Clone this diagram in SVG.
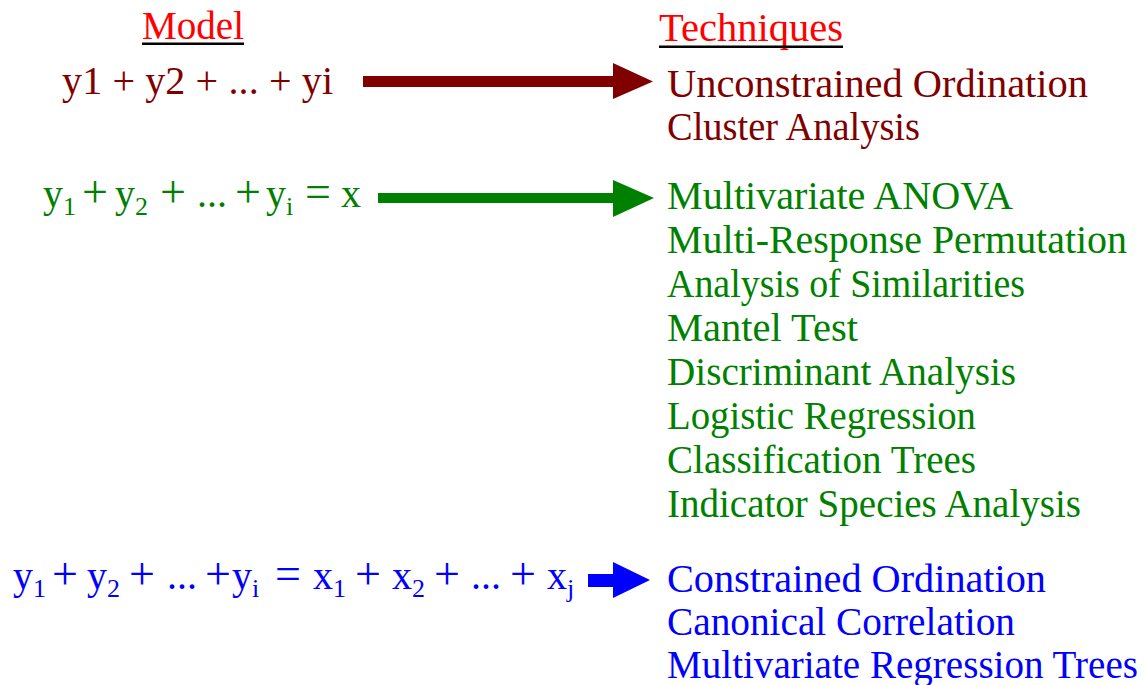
<svg xmlns="http://www.w3.org/2000/svg" width="1146" height="685" viewBox="0 0 1146 685">
  <style>
    text { font-family: "Liberation Serif", "Times New Roman", serif; font-size: 40px; }
    .head { fill: #FF0000; font-size: 39px; }
    .brown { fill: #800000; }
    .green { fill: #008000; }
    .blue { fill: #0000FF; }
    .sub { font-size: 26px; }
    .op { font-size: 46px; }
  </style>
  <rect width="1146" height="685" fill="#FFFFFF"/>

  <!-- column headings -->
  <g id="heading-model">
    <text class="head" x="142" y="39" textLength="102" lengthAdjust="spacingAndGlyphs">Model</text>
    <rect x="142" y="42.5" width="102" height="2.5" fill="#000000"/>
  </g>
  <g id="heading-techniques">
    <text class="head" x="659" y="41" textLength="184" lengthAdjust="spacingAndGlyphs">Techniques</text>
    <rect x="659" y="45.5" width="184" height="2.5" fill="#000000"/>
  </g>

  <!-- models -->
  <g id="model-unconstrained">
    <text class="brown" x="62" y="94" textLength="271" lengthAdjust="spacing">y1 + y2 + ... + yi</text>
  </g>
  <g id="model-single-x">
    <text class="green" y="207"><tspan x="43">y</tspan><tspan class="sub" dy="8">1</tspan><tspan class="op" x="82" dy="-8">+</tspan><tspan x="115">y</tspan><tspan class="sub" dy="8">2</tspan><tspan class="op" x="160" dy="-8">+</tspan><tspan x="197">...</tspan><tspan class="op" x="235">+</tspan><tspan x="266">y</tspan><tspan class="sub" dy="8">i</tspan><tspan class="op" x="305" dy="-8">=</tspan><tspan x="341">x</tspan></text>
  </g>
  <g id="model-multiple-x">
    <text class="blue" y="589"><tspan x="13">y</tspan><tspan class="sub" dy="8">1</tspan><tspan class="op" x="52" dy="-8">+</tspan><tspan x="87">y</tspan><tspan class="sub" dy="8">2</tspan><tspan class="op" x="129" dy="-8">+</tspan><tspan x="167">...</tspan><tspan class="op" x="205">+</tspan><tspan x="232">y</tspan><tspan class="sub" dy="8">i</tspan><tspan class="op" x="275" dy="-8">=</tspan><tspan x="313">x</tspan><tspan class="sub" dy="8">1</tspan><tspan class="op" x="355" dy="-8">+</tspan><tspan x="392">x</tspan><tspan class="sub" dy="8">2</tspan><tspan class="op" x="434" dy="-8">+</tspan><tspan x="471">...</tspan><tspan class="op" x="510">+</tspan><tspan x="547">x</tspan><tspan class="sub" dy="8">j</tspan></text>
  </g>

  <!-- techniques -->
  <g id="techniques-unconstrained">
    <text class="brown" x="667" y="97" textLength="421" lengthAdjust="spacingAndGlyphs">Unconstrained Ordination</text>
    <text class="brown" x="667" y="140" textLength="253" lengthAdjust="spacingAndGlyphs">Cluster Analysis</text>
  </g>
  <g id="techniques-single-x">
    <text class="green" x="667" y="209" textLength="346" lengthAdjust="spacingAndGlyphs">Multivariate ANOVA</text>
    <text class="green" x="667" y="253" textLength="460" lengthAdjust="spacingAndGlyphs">Multi-Response Permutation</text>
    <text class="green" x="667" y="297" textLength="358" lengthAdjust="spacingAndGlyphs">Analysis of Similarities</text>
    <text class="green" x="667" y="341" textLength="191" lengthAdjust="spacingAndGlyphs">Mantel Test</text>
    <text class="green" x="667" y="385" textLength="349" lengthAdjust="spacingAndGlyphs">Discriminant Analysis</text>
    <text class="green" x="667" y="429" textLength="309" lengthAdjust="spacingAndGlyphs">Logistic Regression</text>
    <text class="green" x="667" y="473" textLength="309" lengthAdjust="spacingAndGlyphs">Classification Trees</text>
    <text class="green" x="667" y="517" textLength="414" lengthAdjust="spacingAndGlyphs">Indicator Species Analysis</text>
  </g>
  <g id="techniques-multiple-x">
    <text class="blue" x="667" y="592" textLength="379" lengthAdjust="spacingAndGlyphs">Constrained Ordination</text>
    <text class="blue" x="667" y="635" textLength="348" lengthAdjust="spacingAndGlyphs">Canonical Correlation</text>
    <text class="blue" x="667" y="678" textLength="471" lengthAdjust="spacingAndGlyphs">Multivariate Regression Trees</text>
  </g>

  <!-- block arrows from each model to its techniques -->
  <g id="connectors">
    <polygon fill="#800000" points="363,76 613,76 613,63 653,81.5 613,99 613,87 363,87"/>
    <polygon fill="#008000" points="378,193 613,193 613,180 654,198 613,217 613,203 378,203"/>
    <polygon fill="#0000FF" points="588,574 613,574 613,562 650,580 613,598 613,587 588,587"/>
  </g>
</svg>
